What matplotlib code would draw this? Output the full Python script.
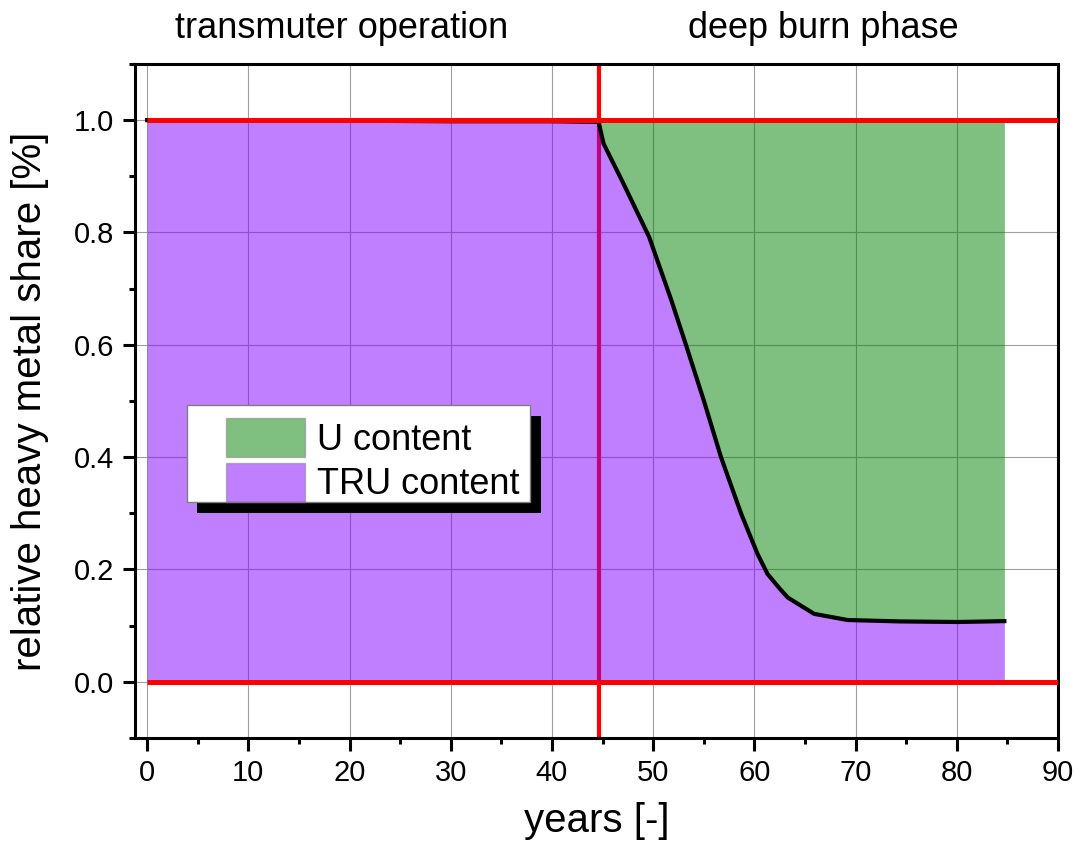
import numpy as np
import matplotlib.pyplot as plt
from matplotlib.ticker import MultipleLocator
from matplotlib.patches import Patch, Rectangle

plt.rcParams['font.family'] = ['Liberation Sans', 'DejaVu Sans']

# TRU share of heavy metal over time
years = [0, 10, 20, 30, 40, 44.6, 45.1, 46.9, 49.6, 51.8, 53.2, 55.0, 56.7,
         58.7, 60.3, 61.3, 62.4, 63.3, 65.9, 69.2, 74.4, 80.1, 84.7]
tru = [1.0, 0.999, 0.999, 0.998, 0.998, 0.997, 0.958, 0.893, 0.792, 0.679,
       0.602, 0.501, 0.400, 0.299, 0.228, 0.192, 0.168, 0.150, 0.121, 0.110,
       0.1075, 0.1065, 0.108]
switch_year = 44.6
phase_labels = ['transmuter operation', 'deep burn phase']
phase_x = [19.2, 66.8]
legend_labels = ['U content', 'TRU content']

years = np.array(years)
tru = np.array(tru)
deep = years >= switch_year

fig = plt.figure(figsize=(10.74, 8.43), dpi=100)
ax = fig.add_axes([0.1257, 0.1246, 0.8594, 0.7995])

# grid under everything
ax.grid(True, which='major', color='#a0a0a0', lw=0.8, zorder=0)
ax.set_axisbelow(True)

ax.axvline(switch_year, color='red', lw=3, zorder=1)

ax.fill_between(years, 0, tru, color='#8000ff', alpha=0.5, lw=0, zorder=2)
ax.fill_between(years[deep], tru[deep], 1.0, color='#008000', alpha=0.5, lw=0, zorder=2)
ax.plot(years, tru, color='black', lw=3, zorder=4, solid_joinstyle='round')

ax.hlines([0.0, 1.0], 0, 90, colors='red', lw=3.6, zorder=5)

ax.set_xlim(-1.2, 90)
ax.set_ylim(-0.1, 1.1)
ax.xaxis.set_major_locator(MultipleLocator(10))
ax.xaxis.set_minor_locator(MultipleLocator(5))
ax.yaxis.set_major_locator(MultipleLocator(0.2))
ax.yaxis.set_minor_locator(MultipleLocator(0.1))
ax.tick_params(which='major', direction='out', length=9, width=2.2,
               labelsize=21, pad=6)
ax.tick_params(which='minor', direction='out', length=4.5, width=2.2)
for s in ax.spines.values():
    s.set_linewidth(2.2)

ax.set_xlabel('years [-]', fontsize=29, labelpad=11)
ax.set_ylabel('relative heavy metal share [%]', fontsize=29, labelpad=18)

for lab, xp in zip(phase_labels, phase_x):
    ax.text(xp, 1.163, lab, fontsize=26, ha='center', va='center')

# legend with a manual frame and black drop shadow
ax.add_patch(Rectangle((0.0677, 0.3344), 0.3717, 0.144, transform=ax.transAxes,
                       facecolor='black', edgecolor='none', zorder=6))
ax.add_patch(Rectangle((0.0563, 0.350), 0.3717, 0.144, transform=ax.transAxes,
                       facecolor='white', edgecolor='#808080', lw=1, zorder=7))
handles = [Patch(facecolor='#008000', alpha=0.5, edgecolor='#808080'),
           Patch(facecolor='#8000ff', alpha=0.5, edgecolor='#808080')]
leg = ax.legend(handles, legend_labels, loc='upper left',
                bbox_to_anchor=(0.0986, 0.4748), frameon=False, fontsize=26,
                borderpad=0, borderaxespad=0, handlelength=2.2,
                handleheight=1.285, handletextpad=0.33, labelspacing=0.14)
leg.set_zorder(8)

fig.savefig('out.png', dpi=100)
